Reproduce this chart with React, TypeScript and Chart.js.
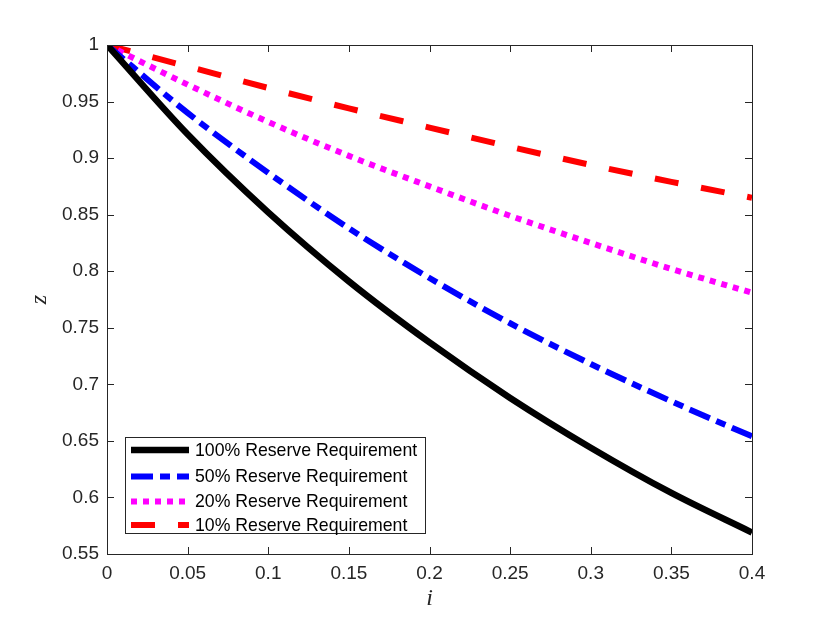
import { useRef, useEffect } from "react"
import { Chart, registerables } from "chart.js"

Chart.register(...registerables)

// interest rate i (x axis)
const rates = [0, 0.05, 0.1, 0.15, 0.2, 0.25, 0.3, 0.35, 0.4]

// z for each reserve requirement
const reserve100 = [1, 0.921, 0.852, 0.791, 0.737, 0.688, 0.644, 0.604, 0.569]
const reserve50 = [1, 0.94, 0.887, 0.838, 0.794, 0.754, 0.718, 0.685, 0.654]
const reserve20 = [1, 0.965, 0.932, 0.902, 0.875, 0.849, 0.825, 0.802, 0.781]
const reserve10 = [1, 0.981, 0.962, 0.944, 0.927, 0.91, 0.894, 0.879, 0.865]

const seriesLabels = [
  "100% Reserve Requirement",
  "50% Reserve Requirement",
  "20% Reserve Requirement",
  "10% Reserve Requirement",
]
const seriesColors = ["#000000", "#0000ff", "#ff00ff", "#ff0000"]
const seriesDashes = [[], [22, 7, 10, 7], [6, 6], [24, 23]]

const xTicks = [0, 0.05, 0.1, 0.15, 0.2, 0.25, 0.3, 0.35, 0.4]
const yTicks = [0.55, 0.6, 0.65, 0.7, 0.75, 0.8, 0.85, 0.9, 0.95, 1]

const axisColor = "#262626"
const sansFont = "'Liberation Sans', Arial, Helvetica, sans-serif"

// MATLAB-like box with inward ticks on all four sides
const boxPlugin = {
  id: "matlabBox",
  afterDatasetsDraw(chart: any) {
    const { ctx, chartArea } = chart
    const { left, right, top, bottom } = chartArea
    const xs = chart.scales.x
    const ys = chart.scales.y
    const len = 7
    ctx.save()
    ctx.strokeStyle = axisColor
    ctx.lineWidth = 1
    ctx.beginPath()
    xTicks.forEach((v) => {
      const px = Math.round(xs.getPixelForValue(v)) + 0.5
      ctx.moveTo(px, bottom)
      ctx.lineTo(px, bottom - len)
      ctx.moveTo(px, top)
      ctx.lineTo(px, top + len)
    })
    yTicks.forEach((v) => {
      const py = Math.round(ys.getPixelForValue(v)) + 0.5
      ctx.moveTo(left, py)
      ctx.lineTo(left + len, py)
      ctx.moveTo(right, py)
      ctx.lineTo(right - len, py)
    })
    ctx.stroke()
    ctx.strokeRect(Math.round(left) + 0.5, Math.round(top) + 0.5, Math.round(right - left), Math.round(bottom - top))
    ctx.restore()
  },
  afterDraw(chart: any) {
    // legend box, lower left inside the axes
    const { ctx } = chart
    const bx = 125
    const by = 437
    const bw = 300
    const bh = 96
    const rowY = [450, 476.5, 501.5, 525]
    ctx.save()
    ctx.fillStyle = "#ffffff"
    ctx.fillRect(bx, by, bw, bh)
    ctx.strokeStyle = axisColor
    ctx.lineWidth = 1
    ctx.strokeRect(bx + 0.5, by + 0.5, bw, bh)
    chart.data.datasets.forEach((ds: any, i: number) => {
      const y = rowY[i]
      ctx.beginPath()
      ctx.strokeStyle = ds.borderColor
      ctx.lineWidth = ds.borderWidth
      ctx.lineCap = "butt"
      ctx.setLineDash(ds.borderDash || [])
      ctx.moveTo(131, y)
      ctx.lineTo(189, y)
      ctx.stroke()
      ctx.setLineDash([])
      ctx.fillStyle = "#000000"
      ctx.font = `17.7px ${sansFont}`
      ctx.textAlign = "left"
      ctx.textBaseline = "middle"
      ctx.fillText(ds.label, 195, y + 1)
    })
    ctx.restore()
  },
}

function ReserveChart() {
  const chartRef = useRef<HTMLCanvasElement>(null)
  const chartInstance = useRef<Chart | null>(null)

  useEffect(() => {
    if (!chartRef.current) return

    if (chartInstance.current) {
      chartInstance.current.destroy()
    }

    const series = [reserve100, reserve50, reserve20, reserve10]
    const datasets = series.map((values, i) => ({
      label: seriesLabels[i],
      data: values.map((v, k) => ({ x: rates[k], y: v })),
      borderColor: seriesColors[i],
      backgroundColor: seriesColors[i],
      borderWidth: i === 0 ? 6.5 : 6,
      borderDash: seriesDashes[i],
      borderCapStyle: "butt" as const,
      pointRadius: 0,
      fill: false,
      cubicInterpolationMode: "monotone" as const,
    }))

    const ctx = chartRef.current.getContext("2d")
    if (ctx) {
      chartInstance.current = new Chart(ctx, {
        type: "line",
        data: { datasets },
        options: {
          responsive: true,
          maintainAspectRatio: false,
          animation: false,
          layout: {
            padding: { left: 0, top: 45, right: 78, bottom: 0 },
          },
          plugins: {
            legend: { display: false },
            tooltip: { enabled: false },
          },
          scales: {
            x: {
              type: "linear",
              min: 0,
              max: 0.4,
              afterFit: (scale: any) => {
                scale.height = 69
              },
              afterBuildTicks: (scale: any) => {
                scale.ticks = xTicks.map((v) => ({ value: v }))
              },
              grid: { display: false, drawTicks: false },
              border: { display: false },
              ticks: {
                color: axisColor,
                padding: 8,
                font: { family: sansFont, size: 19 },
                callback: (v: any) => String(Number(Number(v).toFixed(2))),
              },
              title: {
                display: true,
                text: "i",
                color: axisColor,
                padding: { top: 0, bottom: 10 },
                font: { family: "'Liberation Serif', 'Times New Roman', serif", size: 24, style: "italic" },
              },
            },
            y: {
              type: "linear",
              min: 0.55,
              max: 1,
              afterFit: (scale: any) => {
                scale.width = 107
              },
              afterBuildTicks: (scale: any) => {
                scale.ticks = yTicks.map((v) => ({ value: v }))
              },
              grid: { display: false, drawTicks: false },
              border: { display: false },
              ticks: {
                color: axisColor,
                padding: 8,
                font: { family: sansFont, size: 19 },
                callback: (v: any) => String(Number(Number(v).toFixed(2))),
              },
              title: {
                display: true,
                text: "z",
                color: axisColor,
                padding: { top: 25, bottom: 0 },
                font: { family: "'Liberation Serif', 'Times New Roman', serif", size: 24, style: "italic" },
              },
            },
          },
        },
        plugins: [boxPlugin],
      })
    }

    return () => {
      if (chartInstance.current) {
        chartInstance.current.destroy()
        chartInstance.current = null
      }
    }
  }, [])

  return <canvas ref={chartRef} />
}

export default function App() {
  return (
    <div style={{ position: "fixed", left: 0, top: 0, width: 830, height: 623, background: "#ffffff" }}>
      <ReserveChart />
    </div>
  )
}
